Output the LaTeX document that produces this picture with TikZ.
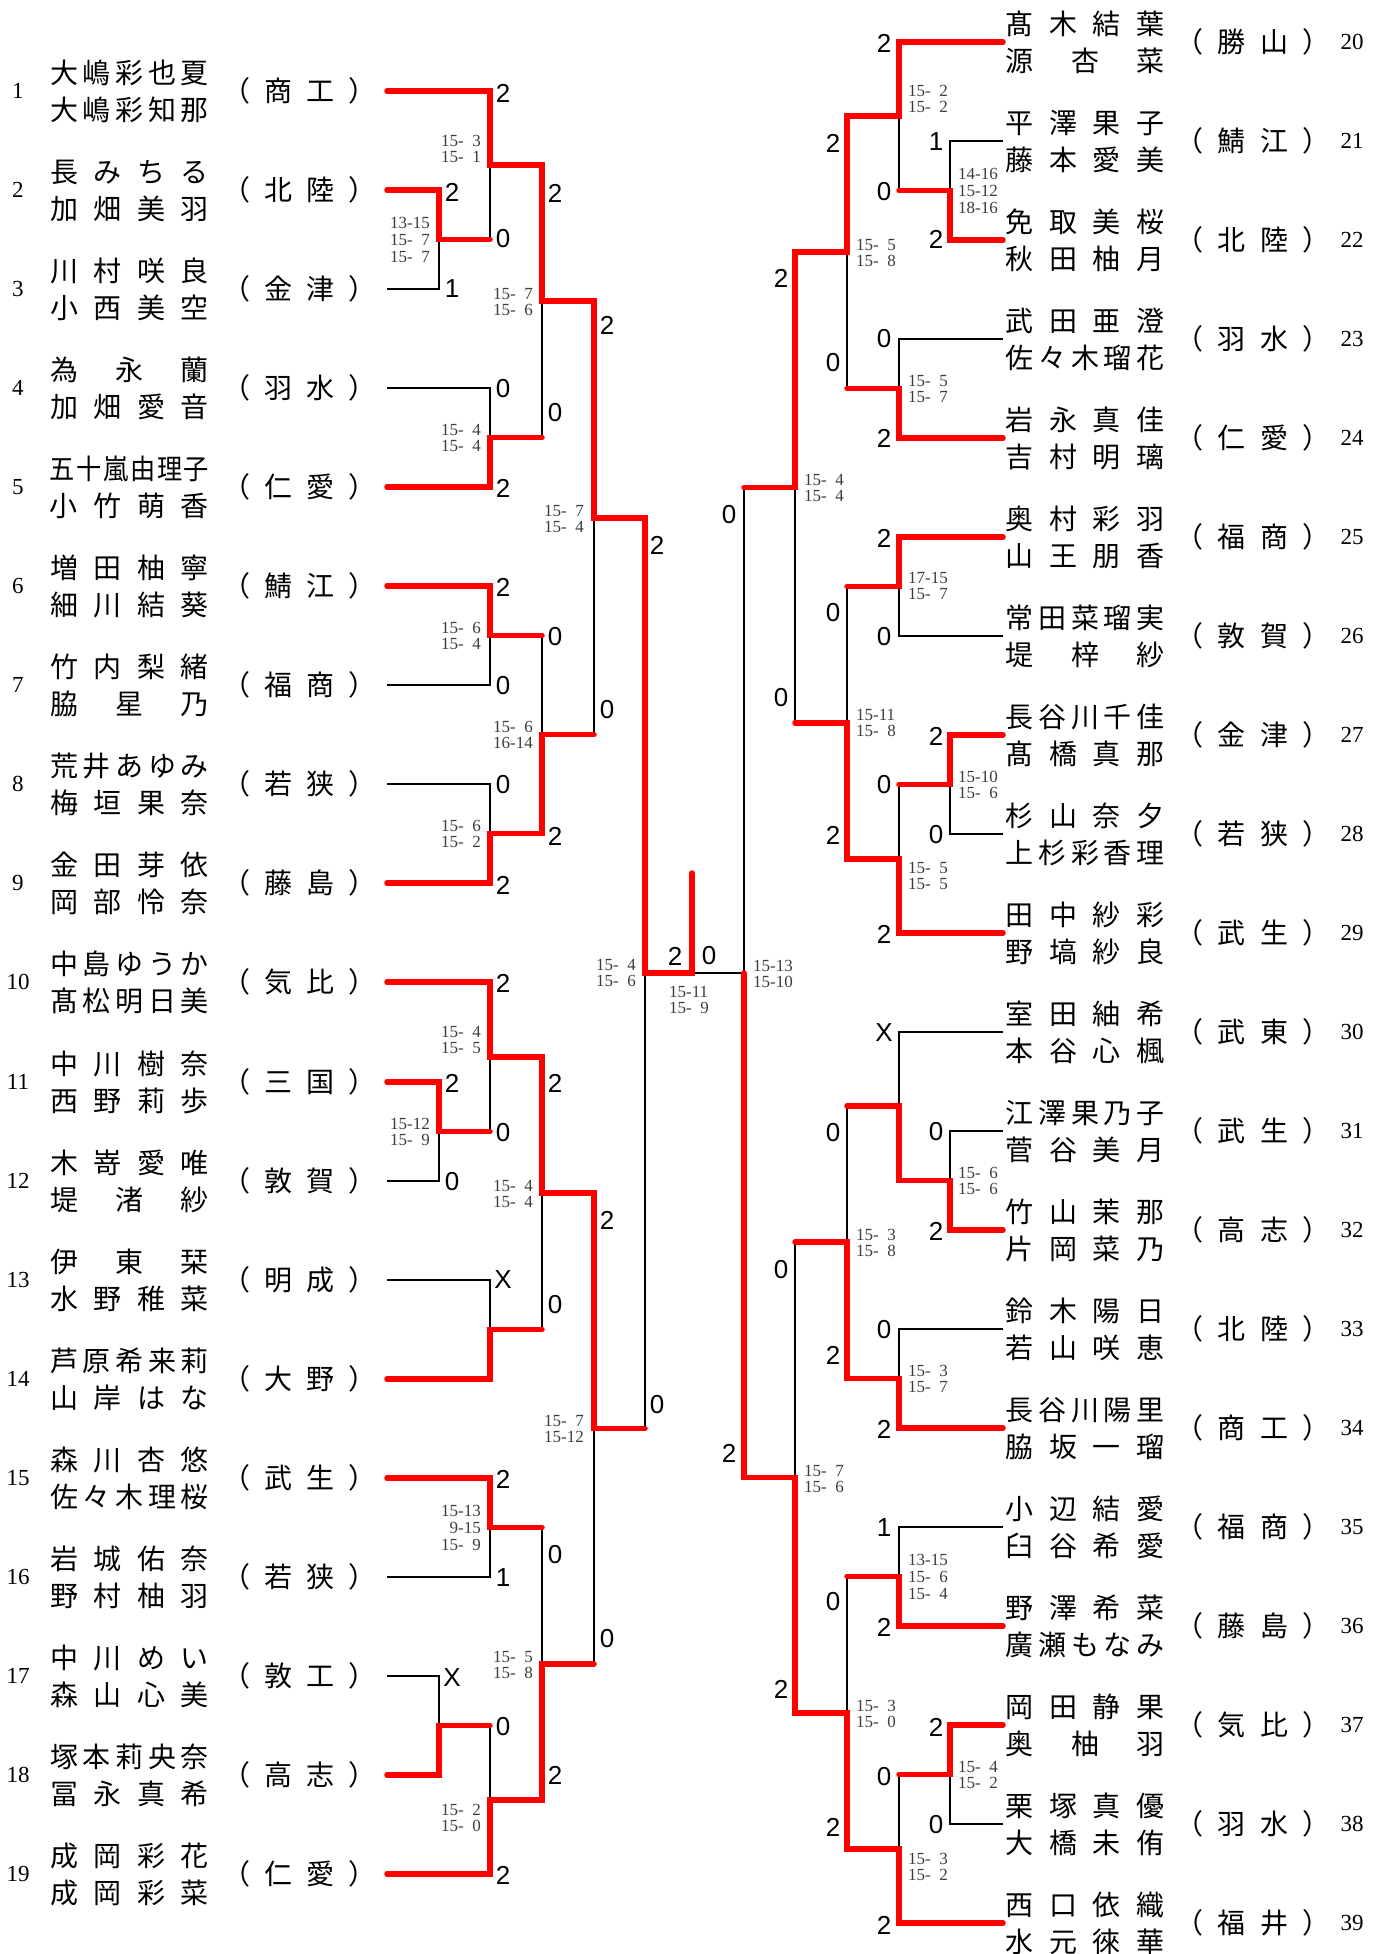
\documentclass[tikz,border=0pt]{standalone}
\usepackage{fontspec}
\usepackage{graphicx}
\usepackage{xcolor}
\setmainfont{Liberation Serif}
\newfontfamily\jpfont{Noto Sans CJK JP}
\newfontfamily\cntfont{Liberation Sans}
\definecolor{winred}{RGB}{255,0,0}
\definecolor{scoregray}{RGB}{60,60,60}

% spread the characters of a name over a fixed width
\def\spreadaux#1#2\endspread{#1\ifx\relax#2\relax\else\hfil\spreadaux#2\endspread\fi}
\newcommand{\pname}[2][159pt]{\makebox[#1][s]{\rule[-3.4pt]{0pt}{28pt}\spreadaux#2\endspread}}
\newcommand{\pteam}[1]{\makebox[155pt][s]{\rule[-3.4pt]{0pt}{28pt}\spreadaux（#1）\endspread}}
\newcommand{\dsp}{\phantom{0}}

\begin{document}
\begin{tikzpicture}[x=1pt, y=-1pt,
    % Text styles
    names/.style={font=\jpfont\fontsize{28}{37}\selectfont, align=center, inner sep=0pt},
    team/.style={font=\jpfont\fontsize{28}{37}\selectfont, inner sep=0pt},
    num/.style={font=\fontsize{23}{23}\selectfont, inner sep=0pt},
    cnt/.style={font=\cntfont\fontsize{26}{26}\selectfont, inner sep=0pt},
    lscore/.style={font=\fontsize{17}{16.7}\selectfont, text=scoregray, align=right, anchor=east, inner sep=0pt},
    rscore/.style={font=\fontsize{17}{16.7}\selectfont, text=scoregray, align=left, anchor=west, inner sep=0pt},
    % Line styles
    win/.style={draw=winred, line width=5.5pt, line cap=round},
    lose/.style={draw=black, line width=1.2pt}
]
\useasboundingbox (0,0) rectangle (1386,1954);

% Left players
\node[num] (k1) at (18,91) {1};
\node[names] (n1) at (129.5,91) {\pname{大嶋彩也夏}\\\pname{大嶋彩知那}};
\node[team] (t1) at (299.5,91) {\pteam{商工}};
\node[num] (k2) at (18,190) {2};
\node[names] (n2) at (129.5,190) {\pname{長みちる}\\\pname{加畑美羽}};
\node[team] (t2) at (299.5,190) {\pteam{北陸}};
\node[num] (k3) at (18,289) {3};
\node[names] (n3) at (129.5,289) {\pname{川村咲良}\\\pname{小西美空}};
\node[team] (t3) at (299.5,289) {\pteam{金津}};
\node[num] (k4) at (18,388) {4};
\node[names] (n4) at (129.5,388) {\pname{為永蘭}\\\pname{加畑愛音}};
\node[team] (t4) at (299.5,388) {\pteam{羽水}};
\node[num] (k5) at (18,487) {5};
\node[names] (n5) at (129.5,487) {\scalebox{0.9}[1]{\pname[176.7pt]{五十嵐由理子}}\\\pname{小竹萌香}};
\node[team] (t5) at (299.5,487) {\pteam{仁愛}};
\node[num] (k6) at (18,586) {6};
\node[names] (n6) at (129.5,586) {\pname{増田柚寧}\\\pname{細川結葵}};
\node[team] (t6) at (299.5,586) {\pteam{鯖江}};
\node[num] (k7) at (18,685) {7};
\node[names] (n7) at (129.5,685) {\pname{竹内梨緒}\\\pname{脇星乃}};
\node[team] (t7) at (299.5,685) {\pteam{福商}};
\node[num] (k8) at (18,784) {8};
\node[names] (n8) at (129.5,784) {\pname{荒井あゆみ}\\\pname{梅垣果奈}};
\node[team] (t8) at (299.5,784) {\pteam{若狭}};
\node[num] (k9) at (18,883) {9};
\node[names] (n9) at (129.5,883) {\pname{金田芽依}\\\pname{岡部怜奈}};
\node[team] (t9) at (299.5,883) {\pteam{藤島}};
\node[num] (k10) at (18,982) {10};
\node[names] (n10) at (129.5,982) {\pname{中島ゆうか}\\\pname{髙松明日美}};
\node[team] (t10) at (299.5,982) {\pteam{気比}};
\node[num] (k11) at (18,1082) {11};
\node[names] (n11) at (129.5,1082) {\pname{中川樹奈}\\\pname{西野莉歩}};
\node[team] (t11) at (299.5,1082) {\pteam{三国}};
\node[num] (k12) at (18,1181) {12};
\node[names] (n12) at (129.5,1181) {\pname{木嵜愛唯}\\\pname{堤渚紗}};
\node[team] (t12) at (299.5,1181) {\pteam{敦賀}};
\node[num] (k13) at (18,1280) {13};
\node[names] (n13) at (129.5,1280) {\pname{伊東栞}\\\pname{水野稚菜}};
\node[team] (t13) at (299.5,1280) {\pteam{明成}};
\node[num] (k14) at (18,1379) {14};
\node[names] (n14) at (129.5,1379) {\pname{芦原希来莉}\\\pname{山岸はな}};
\node[team] (t14) at (299.5,1379) {\pteam{大野}};
\node[num] (k15) at (18,1478) {15};
\node[names] (n15) at (129.5,1478) {\pname{森川杏悠}\\\pname{佐々木理桜}};
\node[team] (t15) at (299.5,1478) {\pteam{武生}};
\node[num] (k16) at (18,1577) {16};
\node[names] (n16) at (129.5,1577) {\pname{岩城佑奈}\\\pname{野村柚羽}};
\node[team] (t16) at (299.5,1577) {\pteam{若狭}};
\node[num] (k17) at (18,1676) {17};
\node[names] (n17) at (129.5,1676) {\pname{中川めい}\\\pname{森山心美}};
\node[team] (t17) at (299.5,1676) {\pteam{敦工}};
\node[num] (k18) at (18,1775) {18};
\node[names] (n18) at (129.5,1775) {\pname{塚本莉央奈}\\\pname{冨永真希}};
\node[team] (t18) at (299.5,1775) {\pteam{高志}};
\node[num] (k19) at (18,1874) {19};
\node[names] (n19) at (129.5,1874) {\pname{成岡彩花}\\\pname{成岡彩菜}};
\node[team] (t19) at (299.5,1874) {\pteam{仁愛}};

% Right players
\node[names] (n20) at (1085,42) {\pname{髙木結葉}\\\pname{源杏菜}};
\node[team] (t20) at (1253,42) {\pteam{勝山}};
\node[num] (k20) at (1352,42) {20};
\node[names] (n21) at (1085,141) {\pname{平澤果子}\\\pname{藤本愛美}};
\node[team] (t21) at (1253,141) {\pteam{鯖江}};
\node[num] (k21) at (1352,141) {21};
\node[names] (n22) at (1085,240) {\pname{免取美桜}\\\pname{秋田柚月}};
\node[team] (t22) at (1253,240) {\pteam{北陸}};
\node[num] (k22) at (1352,240) {22};
\node[names] (n23) at (1085,339) {\pname{武田亜澄}\\\pname{佐々木瑠花}};
\node[team] (t23) at (1253,339) {\pteam{羽水}};
\node[num] (k23) at (1352,339) {23};
\node[names] (n24) at (1085,438) {\pname{岩永真佳}\\\pname{吉村明璃}};
\node[team] (t24) at (1253,438) {\pteam{仁愛}};
\node[num] (k24) at (1352,438) {24};
\node[names] (n25) at (1085,537) {\pname{奥村彩羽}\\\pname{山王朋香}};
\node[team] (t25) at (1253,537) {\pteam{福商}};
\node[num] (k25) at (1352,537) {25};
\node[names] (n26) at (1085,636) {\pname{常田菜瑠実}\\\pname{堤梓紗}};
\node[team] (t26) at (1253,636) {\pteam{敦賀}};
\node[num] (k26) at (1352,636) {26};
\node[names] (n27) at (1085,735) {\pname{長谷川千佳}\\\pname{髙橋真那}};
\node[team] (t27) at (1253,735) {\pteam{金津}};
\node[num] (k27) at (1352,735) {27};
\node[names] (n28) at (1085,834) {\pname{杉山奈夕}\\\pname{上杉彩香理}};
\node[team] (t28) at (1253,834) {\pteam{若狭}};
\node[num] (k28) at (1352,834) {28};
\node[names] (n29) at (1085,933) {\pname{田中紗彩}\\\pname{野塙紗良}};
\node[team] (t29) at (1253,933) {\pteam{武生}};
\node[num] (k29) at (1352,933) {29};
\node[names] (n30) at (1085,1032) {\pname{室田紬希}\\\pname{本谷心楓}};
\node[team] (t30) at (1253,1032) {\pteam{武東}};
\node[num] (k30) at (1352,1032) {30};
\node[names] (n31) at (1085,1131) {\pname{江澤果乃子}\\\pname{菅谷美月}};
\node[team] (t31) at (1253,1131) {\pteam{武生}};
\node[num] (k31) at (1352,1131) {31};
\node[names] (n32) at (1085,1230) {\pname{竹山茉那}\\\pname{片岡菜乃}};
\node[team] (t32) at (1253,1230) {\pteam{高志}};
\node[num] (k32) at (1352,1230) {32};
\node[names] (n33) at (1085,1329) {\pname{鈴木陽日}\\\pname{若山咲恵}};
\node[team] (t33) at (1253,1329) {\pteam{北陸}};
\node[num] (k33) at (1352,1329) {33};
\node[names] (n34) at (1085,1428) {\pname{長谷川陽里}\\\pname{脇坂一瑠}};
\node[team] (t34) at (1253,1428) {\pteam{商工}};
\node[num] (k34) at (1352,1428) {34};
\node[names] (n35) at (1085,1527) {\pname{小辺結愛}\\\pname{臼谷希愛}};
\node[team] (t35) at (1253,1527) {\pteam{福商}};
\node[num] (k35) at (1352,1527) {35};
\node[names] (n36) at (1085,1626) {\pname{野澤希菜}\\\pname{廣瀬もなみ}};
\node[team] (t36) at (1253,1626) {\pteam{藤島}};
\node[num] (k36) at (1352,1626) {36};
\node[names] (n37) at (1085,1725) {\pname{岡田静果}\\\pname{奥柚羽}};
\node[team] (t37) at (1253,1725) {\pteam{気比}};
\node[num] (k37) at (1352,1725) {37};
\node[names] (n38) at (1085,1824) {\pname{栗塚真優}\\\pname{大橋未侑}};
\node[team] (t38) at (1253,1824) {\pteam{羽水}};
\node[num] (k38) at (1352,1824) {38};
\node[names] (n39) at (1085,1923) {\pname{西口依織}\\\pname{水元徠華}};
\node[team] (t39) at (1253,1923) {\pteam{福井}};
\node[num] (k39) at (1352,1923) {39};

% Line ends of the players
\coordinate (p1) at (387,91);
\coordinate (p2) at (387,190);
\coordinate (p3) at (387,289);
\coordinate (p4) at (387,388);
\coordinate (p5) at (387,487);
\coordinate (p6) at (387,586);
\coordinate (p7) at (387,685);
\coordinate (p8) at (387,784);
\coordinate (p9) at (387,883);
\coordinate (p10) at (387,982);
\coordinate (p11) at (387,1082);
\coordinate (p12) at (387,1181);
\coordinate (p13) at (387,1280);
\coordinate (p14) at (387,1379);
\coordinate (p15) at (387,1478);
\coordinate (p16) at (387,1577);
\coordinate (p17) at (387,1676);
\coordinate (p18) at (387,1775);
\coordinate (p19) at (387,1874);
\coordinate (p20) at (1003,42);
\coordinate (p21) at (1003,141);
\coordinate (p22) at (1003,240);
\coordinate (p23) at (1003,339);
\coordinate (p24) at (1003,438);
\coordinate (p25) at (1003,537);
\coordinate (p26) at (1003,636);
\coordinate (p27) at (1003,735);
\coordinate (p28) at (1003,834);
\coordinate (p29) at (1003,933);
\coordinate (p30) at (1003,1032);
\coordinate (p31) at (1003,1131);
\coordinate (p32) at (1003,1230);
\coordinate (p33) at (1003,1329);
\coordinate (p34) at (1003,1428);
\coordinate (p35) at (1003,1527);
\coordinate (p36) at (1003,1626);
\coordinate (p37) at (1003,1725);
\coordinate (p38) at (1003,1824);
\coordinate (p39) at (1003,1923);

% Match points - left
\coordinate (m2v3) at (439,239.5);
\coordinate (m1v3) at (490,165);
\coordinate (m4v5) at (490,437.5);
\coordinate (m1v5) at (542,301);
\coordinate (m6v7) at (490,635.5);
\coordinate (m8v9) at (490,833.5);
\coordinate (m6v9) at (542,734.5);
\coordinate (m1v9) at (594,518);
\coordinate (m11v12) at (439,1131.5);
\coordinate (m10v12) at (490,1057);
\coordinate (m13v14) at (490,1329.5);
\coordinate (m10v14) at (542,1193);
\coordinate (m15v16) at (490,1527.5);
\coordinate (m17v18) at (439,1725.5);
\coordinate (m17v19) at (490,1800);
\coordinate (m15v19) at (542,1664);
\coordinate (m10v19) at (594,1428.5);
\coordinate (m1v19) at (645,973);

% Match points - right
\coordinate (m21v22) at (950,190.5);
\coordinate (m20v22) at (899,116);
\coordinate (m23v24) at (899,388.5);
\coordinate (m20v24) at (847,252);
\coordinate (m25v26) at (899,586.5);
\coordinate (m27v28) at (950,784.5);
\coordinate (m27v29) at (899,859);
\coordinate (m25v29) at (847,723);
\coordinate (m20v29) at (795,487.5);
\coordinate (m31v32) at (950,1180.5);
\coordinate (m30v32) at (899,1106);
\coordinate (m33v34) at (899,1378.5);
\coordinate (m30v34) at (847,1242);
\coordinate (m35v36) at (899,1576.5);
\coordinate (m37v38) at (950,1774.5);
\coordinate (m37v39) at (899,1849);
\coordinate (m35v39) at (847,1713);
\coordinate (m30v39) at (795,1477.5);
\coordinate (m20v39) at (744,973);

% Final
\coordinate (fin) at (692,973);
\coordinate (champ) at (692,873);

% Lost lines - left
\draw[lose] (p3) -| (m2v3);
\draw[lose] (m2v3 -| m1v3) -- (m1v3);
\draw[lose] (p4) -| (m4v5);
\draw[lose] (m4v5 -| m1v5) -- (m1v5);
\draw[lose] (p7) -| (m6v7);
\draw[lose] (p8) -| (m8v9);
\draw[lose] (m6v7 -| m6v9) -- (m6v9);
\draw[lose] (m6v9 -| m1v9) -- (m1v9);
\draw[lose] (p12) -| (m11v12);
\draw[lose] (m11v12 -| m10v12) -- (m10v12);
\draw[lose] (p13) -| (m13v14);
\draw[lose] (m13v14 -| m10v14) -- (m10v14);
\draw[lose] (p16) -| (m15v16);
\draw[lose] (p17) -| (m17v18);
\draw[lose] (m17v18 -| m17v19) -- (m17v19);
\draw[lose] (m15v16 -| m15v19) -- (m15v19);
\draw[lose] (m15v19 -| m10v19) -- (m10v19);
\draw[lose] (m10v19 -| m1v19) -- (m1v19);

% Lost lines - right
\draw[lose] (p21) -| (m21v22);
\draw[lose] (m21v22 -| m20v22) -- (m20v22);
\draw[lose] (p23) -| (m23v24);
\draw[lose] (m23v24 -| m20v24) -- (m20v24);
\draw[lose] (p26) -| (m25v26);
\draw[lose] (p28) -| (m27v28);
\draw[lose] (m27v28 -| m27v29) -- (m27v29);
\draw[lose] (m25v26 -| m25v29) -- (m25v29);
\draw[lose] (m25v29 -| m20v29) -- (m20v29);
\draw[lose] (m20v29 -| m20v39) -- (m20v39);
\draw[lose] (p30) -| (m30v32);
\draw[lose] (p31) -| (m31v32);
\draw[lose] (m30v32 -| m30v34) -- (m30v34);
\draw[lose] (p33) -| (m33v34);
\draw[lose] (m30v34 -| m30v39) -- (m30v39);
\draw[lose] (p35) -| (m35v36);
\draw[lose] (p38) -| (m37v38);
\draw[lose] (m35v36 -| m35v39) -- (m35v39);
\draw[lose] (m37v38 -| m37v39) -- (m37v39);
\draw[lose] (m20v39) -- (fin);

% Won lines - left
\draw[win] (p1) -| (m1v3) -| (m1v5) -| (m1v9) -| (m1v19) -- (fin) -- (champ);
\draw[win] (p2) -| (m2v3) -- (m2v3 -| m1v3);
\draw[win] (p5) -| (m4v5) -- (m4v5 -| m1v5);
\draw[win] (p6) -| (m6v7) -- (m6v7 -| m6v9);
\draw[win] (p9) -| (m8v9) -| (m6v9) -- (m6v9 -| m1v9);
\draw[win] (p10) -| (m10v12) -| (m10v14) -| (m10v19) -- (m10v19 -| m1v19);
\draw[win] (p11) -| (m11v12) -- (m11v12 -| m10v12);
\draw[win] (p14) -| (m13v14) -- (m13v14 -| m10v14);
\draw[win] (p15) -| (m15v16) -- (m15v16 -| m15v19);
\draw[win] (p18) -| (m17v18) -- (m17v18 -| m17v19);
\draw[win] (p19) -| (m17v19) -| (m15v19) -- (m15v19 -| m10v19);

% Won lines - right
\draw[win] (p20) -| (m20v22) -| (m20v24) -| (m20v29) -- (m20v29 -| m20v39);
\draw[win] (p22) -| (m21v22) -- (m21v22 -| m20v22);
\draw[win] (p24) -| (m23v24) -- (m23v24 -| m20v24);
\draw[win] (p25) -| (m25v26) -- (m25v26 -| m25v29);
\draw[win] (p27) -| (m27v28) -- (m27v28 -| m27v29);
\draw[win] (p29) -| (m27v29) -| (m25v29) -- (m25v29 -| m20v29);
\draw[win] (p32) -| (m31v32) -| (m30v32) -- (m30v32 -| m30v34);
\draw[win] (p34) -| (m33v34) -| (m30v34) -- (m30v34 -| m30v39);
\draw[win] (p36) -| (m35v36) -- (m35v36 -| m35v39);
\draw[win] (p37) -| (m37v38) -- (m37v38 -| m37v39);
\draw[win] (p39) -| (m37v39) -| (m35v39) -| (m30v39) -| (m20v39);

% Games won - left
\node[cnt] (c1) at (503,93) {2};
\node[cnt] (c2) at (452,192) {2};
\node[cnt] (c3) at (503,239) {0};
\node[cnt] (c4) at (452,289) {1};
\node[cnt] (c5) at (555,193) {2};
\node[cnt] (c6) at (607,325) {2};
\node[cnt] (c7) at (503,389) {0};
\node[cnt] (c8) at (555,413) {0};
\node[cnt] (c9) at (503,488) {2};
\node[cnt] (c10) at (657,545) {2};
\node[cnt] (c11) at (503,587) {2};
\node[cnt] (c12) at (555,637) {0};
\node[cnt] (c13) at (503,686) {0};
\node[cnt] (c14) at (607,710) {0};
\node[cnt] (c15) at (503,785) {0};
\node[cnt] (c16) at (555,836) {2};
\node[cnt] (c17) at (503,885) {2};
\node[cnt] (c18) at (503,983) {2};
\node[cnt] (c19) at (452,1083) {2};
\node[cnt] (c20) at (555,1083) {2};
\node[cnt] (c21) at (503,1133) {0};
\node[cnt] (c22) at (452,1182) {0};
\node[cnt] (c23) at (607,1220) {2};
\node[cnt] (c24) at (503,1280) {X};
\node[cnt] (c25) at (555,1305) {0};
\node[cnt] (c26) at (657,1405) {0};
\node[cnt] (c27) at (503,1479) {2};
\node[cnt] (c28) at (555,1555) {0};
\node[cnt] (c29) at (503,1578) {1};
\node[cnt] (c30) at (607,1639) {0};
\node[cnt] (c31) at (452,1678) {X};
\node[cnt] (c32) at (503,1727) {0};
\node[cnt] (c33) at (555,1775) {2};
\node[cnt] (c34) at (503,1875) {2};

% Games won - final
\node[cnt] (cf1) at (675,956) {2};
\node[cnt] (cf2) at (709,956) {0};

% Games won - right
\node[cnt] (d1) at (884,43) {2};
\node[cnt] (d2) at (936,142) {1};
\node[cnt] (d3) at (833,143) {2};
\node[cnt] (d4) at (884,192) {0};
\node[cnt] (d5) at (936,239) {2};
\node[cnt] (d6) at (781,278) {2};
\node[cnt] (d7) at (884,339) {0};
\node[cnt] (d8) at (833,363) {0};
\node[cnt] (d9) at (884,438) {2};
\node[cnt] (d10) at (729,515) {0};
\node[cnt] (d11) at (884,538) {2};
\node[cnt] (d12) at (833,613) {0};
\node[cnt] (d13) at (884,637) {0};
\node[cnt] (d14) at (781,698) {0};
\node[cnt] (d15) at (936,736) {2};
\node[cnt] (d16) at (884,785) {0};
\node[cnt] (d17) at (936,835) {0};
\node[cnt] (d18) at (833,835) {2};
\node[cnt] (d19) at (884,934) {2};
\node[cnt] (d20) at (884,1033) {X};
\node[cnt] (d21) at (936,1132) {0};
\node[cnt] (d22) at (833,1133) {0};
\node[cnt] (d23) at (936,1231) {2};
\node[cnt] (d24) at (781,1270) {0};
\node[cnt] (d25) at (884,1330) {0};
\node[cnt] (d26) at (833,1355) {2};
\node[cnt] (d27) at (884,1429) {2};
\node[cnt] (d28) at (729,1453) {2};
\node[cnt] (d29) at (884,1528) {1};
\node[cnt] (d30) at (833,1602) {0};
\node[cnt] (d31) at (884,1627) {2};
\node[cnt] (d32) at (781,1689) {2};
\node[cnt] (d33) at (936,1727) {2};
\node[cnt] (d34) at (884,1777) {0};
\node[cnt] (d35) at (936,1825) {0};
\node[cnt] (d36) at (833,1827) {2};
\node[cnt] (d37) at (884,1925) {2};

% Set scores - left
\node[lscore] (s1) at (481,149) {15-\dsp3\\15-\dsp1};
\node[lscore] (s2) at (430,240) {13-15\\15-\dsp7\\15-\dsp7};
\node[lscore] (s3) at (481,438) {15-\dsp4\\15-\dsp4};
\node[lscore] (s4) at (533,302) {15-\dsp7\\15-\dsp6};
\node[lscore] (s5) at (481,636) {15-\dsp6\\15-\dsp4};
\node[lscore] (s6) at (481,834) {15-\dsp6\\15-\dsp2};
\node[lscore] (s7) at (533,735) {15-\dsp6\\16-14};
\node[lscore] (s8) at (584,519) {15-\dsp7\\15-\dsp4};
\node[lscore] (s9) at (481,1040) {15-\dsp4\\15-\dsp5};
\node[lscore] (s10) at (430,1132) {15-12\\15-\dsp9};
\node[lscore] (s11) at (533,1194) {15-\dsp4\\15-\dsp4};
\node[lscore] (s12) at (481,1528) {15-13\\9-15\\15-\dsp9};
\node[lscore] (s13) at (481,1818) {15-\dsp2\\15-\dsp0};
\node[lscore] (s14) at (533,1665) {15-\dsp5\\15-\dsp8};
\node[lscore] (s15) at (584,1429) {15-\dsp7\\15-12};
\node[lscore] (s16) at (636,973) {15-\dsp4\\15-\dsp6};

% Set scores - final
\node[rscore] (sf) at (669,1000) {15-11\\15-\dsp9};

% Set scores - right
\node[rscore] (r1) at (908,99) {15-\dsp2\\15-\dsp2};
\node[rscore] (r2) at (958,191) {14-16\\15-12\\18-16};
\node[rscore] (r3) at (908,389) {15-\dsp5\\15-\dsp7};
\node[rscore] (r4) at (856,253) {15-\dsp5\\15-\dsp8};
\node[rscore] (r5) at (908,586) {17-15\\15-\dsp7};
\node[rscore] (r6) at (958,785) {15-10\\15-\dsp6};
\node[rscore] (r7) at (908,876) {15-\dsp5\\15-\dsp5};
\node[rscore] (r8) at (856,723) {15-11\\15-\dsp8};
\node[rscore] (r9) at (804,488) {15-\dsp4\\15-\dsp4};
\node[rscore] (r10) at (753,974) {15-13\\15-10};
\node[rscore] (r11) at (958,1181) {15-\dsp6\\15-\dsp6};
\node[rscore] (r12) at (908,1379) {15-\dsp3\\15-\dsp7};
\node[rscore] (r13) at (856,1243) {15-\dsp3\\15-\dsp8};
\node[rscore] (r14) at (908,1577) {13-15\\15-\dsp6\\15-\dsp4};
\node[rscore] (r15) at (958,1775) {15-\dsp4\\15-\dsp2};
\node[rscore] (r16) at (908,1867) {15-\dsp3\\15-\dsp2};
\node[rscore] (r17) at (856,1714) {15-\dsp3\\15-\dsp0};
\node[rscore] (r18) at (804,1479) {15-\dsp7\\15-\dsp6};

\end{tikzpicture}
\end{document}
